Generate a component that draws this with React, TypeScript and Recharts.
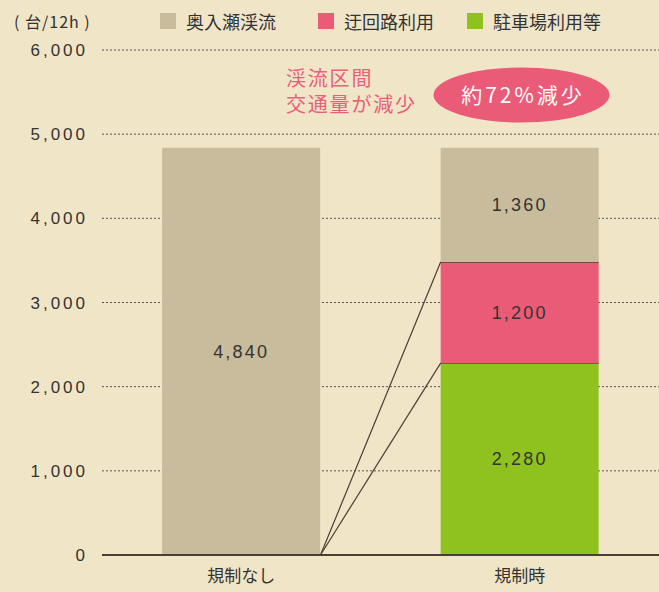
import { BarChart, Bar, XAxis, YAxis, CartesianGrid, LabelList } from "recharts";

const categories = ["規制なし", "規制時"];
const parking = [null, 2280]; // 駐車場利用等
const detour = [null, 1200]; // 迂回路利用
const stream = [4840, 1360]; // 奥入瀬渓流
const yTicks = [0, 1000, 2000, 3000, 4000, 5000, 6000];

const legendItems = [
  { name: "奥入瀬渓流", color: "#c9bc9c", left: 160 },
  { name: "迂回路利用", color: "#ea5b78", left: 318 },
  { name: "駐車場利用等", color: "#8fc21f", left: 467 },
];

const data = categories.map((c, i) => ({
  name: c,
  parking: parking[i],
  detour: detour[i],
  stream: stream[i],
}));

const BG = "#f1e5c8";
const INK = "#333";
const LINE = "#4a3f35";
const CAT_GAP = 0.216;
const FONT = "'Noto Sans CJK JP', 'Noto Sans', sans-serif";
const NUM_FONT = "'Liberation Sans', Arial, sans-serif";

// stacked segment with a dark top edge and a connector line from the previous bar's bottom-right corner
function LinkedSegment(props: any) {
  const { x, y, width, height, fill, value } = props;
  if (!height || height <= 0) return null;
  const [lo, hi] = value;
  const ppu = height / (hi - lo);
  const baseline = y + hi * ppu;
  const gap = (width * 2 * CAT_GAP) / (1 - 2 * CAT_GAP);
  return (
    <g>
      <rect x={x} y={y} width={width} height={height} fill={fill} />
      <line x1={x} y1={y} x2={x + width} y2={y} stroke={LINE} strokeWidth={1.5} />
      <line x1={x - gap} y1={baseline} x2={x} y2={y} stroke={LINE} strokeWidth={1.2} />
    </g>
  );
}

const fmt = (v: any) => (v ? Number(v).toLocaleString("en-US") : "");
const valueStyle = { fontSize: 18, fill: INK, letterSpacing: 2.2, fontFamily: NUM_FONT };

export default function App() {
  return (
    <div style={{ position: "relative", width: 659, height: 592, background: BG, fontFamily: FONT }}>
      <style>{"body{margin:0}"}</style>
      <div style={{ position: "absolute", left: 14, top: 9, fontSize: 16, color: INK, letterSpacing: 1, whiteSpace: "pre" }}>
        ( 台/12h )
      </div>
      {legendItems.map((it) => (
        <div
          key={it.name}
          style={{ position: "absolute", left: it.left, top: 8, display: "flex", alignItems: "center", fontSize: 18, color: INK }}
        >
          <span style={{ width: 16, height: 16, background: it.color, marginRight: 10, display: "inline-block" }} />
          <span>{it.name}</span>
        </div>
      ))}
      <BarChart
        width={659}
        height={592}
        data={data}
        margin={{ top: 50, right: 0, left: 0, bottom: 0 }}
        barCategoryGap={`${CAT_GAP * 100}%`}
        style={{ position: "absolute", left: 0, top: 0 }}
      >
        <CartesianGrid vertical={false} stroke="#555" strokeDasharray="2 2" strokeWidth={1} />
        <XAxis
          dataKey="name"
          height={37}
          axisLine={{ stroke: LINE, strokeWidth: 2 }}
          tickLine={false}
          tick={{ fontSize: 17, fill: INK, fontFamily: FONT }}
          tickMargin={9}
        />
        <YAxis
          width={102}
          domain={[0, 6000]}
          ticks={yTicks}
          axisLine={false}
          tickLine={false}
          tickMargin={8}
          tickFormatter={(v) => Number(v).toLocaleString("en-US")}
          tick={{ fontSize: 17, fill: INK, fontFamily: NUM_FONT, letterSpacing: 3 }}
        />
        <Bar dataKey="parking" stackId="a" fill="#8fc21f" shape={LinkedSegment} isAnimationActive={false}>
          <LabelList dataKey="parking" position="center" formatter={fmt} style={valueStyle} />
        </Bar>
        <Bar dataKey="detour" stackId="a" fill="#ea5b78" shape={LinkedSegment} isAnimationActive={false}>
          <LabelList dataKey="detour" position="center" formatter={fmt} style={valueStyle} />
        </Bar>
        <Bar dataKey="stream" stackId="a" fill="#c9bc9c" isAnimationActive={false}>
          <LabelList dataKey="stream" position="center" formatter={fmt} style={valueStyle} />
        </Bar>
      </BarChart>
      <svg width={659} height={592} style={{ position: "absolute", left: 0, top: 0, pointerEvents: "none" }}>
        <ellipse cx={521.5} cy={95} rx={88} ry={27.5} fill="#ea5b78" />
        <text x={523} y={103} fontSize={21} fill="#fff" textAnchor="middle" fontFamily={FONT} letterSpacing={3}>
          約72%減少
        </text>
      </svg>
      <div
        style={{
          position: "absolute",
          left: 286,
          top: 65,
          fontSize: 20,
          lineHeight: "26px",
          letterSpacing: 1.8,
          color: "#e9607a",
          whiteSpace: "pre-line",
        }}
      >
        {"渓流区間\n交通量が減少"}
      </div>
    </div>
  );
}
